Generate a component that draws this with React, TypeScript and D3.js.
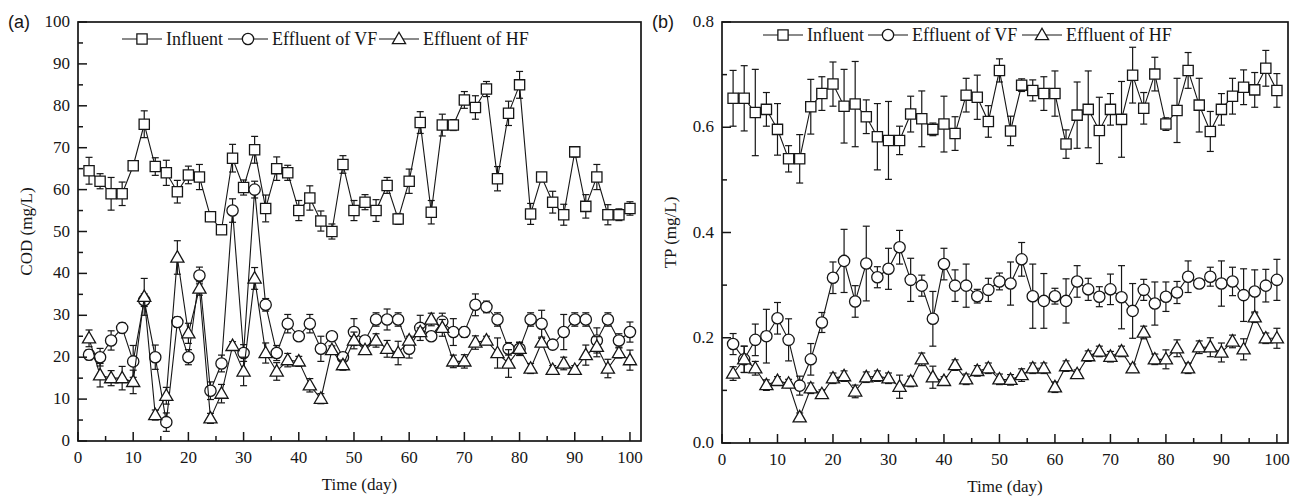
import React from 'react';
import * as d3 from 'd3';

// sampling days (every 2nd day)
const days = [2, 4, 6, 8, 10, 12, 14, 16, 18, 20, 22, 24, 26, 28, 30, 32, 34, 36, 38, 40,
  42, 44, 46, 48, 50, 52, 54, 56, 58, 60, 62, 64, 66, 68, 70, 72, 74, 76, 78, 80,
  82, 84, 86, 88, 90, 92, 94, 96, 98, 100];

const seriesNames = ['Influent', 'Effluent of VF', 'Effluent of HF'];

// (a) COD, mg/L
const codInfluent = [64.5, 62, 59, 59, 65.7, 75.6, 65.5, 64, 59.5, 63.5, 63, 53.5, 50.4, 67.5, 60.5, 69.5, 55.5, 65, 64, 55,
  58, 52.5, 50, 66, 55, 57, 55, 61, 53, 62, 76, 54.6, 75.4, 75.4, 81.4, 79.6, 84, 62.6, 78.2, 85,
  54.2, 63, 57, 54, 69, 56, 63, 54, 54, 55.5];
const codInfluentErr = [3.2, 1.8, 3.9, 2.8, 1, 3.2, 2.1, 3, 2.7, 2.1, 3, 1.1, 0.8, 3.3, 1.8, 3.2, 3.2, 2.8, 1.8, 2.4,
  2.9, 2.4, 1.8, 2.1, 2.4, 1.8, 2.6, 1.9, 1.3, 2.9, 2.6, 2.8, 2.6, 1.3, 2, 2.8, 1.8, 2.9, 2.9, 3.2,
  2.5, 0.8, 2.6, 2.5, 1.2, 2.8, 3, 2.4, 1.4, 1.6];
const codVF = [20.6, 20, 24, 27, 19, 33.6, 20, 4.5, 28.4, 20, 39.5, 12, 18.5, 55, 21, 60, 32.5, 21, 28, 25,
  28, 22, 25, 20, 26, 24, 29, 29, 29, 22, 27, 25, 28.5, 26, 26, 32.5, 32, 29, 22, 22,
  29, 28, 23, 26, 29, 29, 24, 29, 24, 26];
const codVFErr = [1.2, 2.1, 2.3, 1.2, 3.8, 1.5, 2.9, 2.2, 1.2, 1.8, 2, 2.1, 2, 2.8, 2, 2, 1.5, 1.8, 2.2, 1,
  2.2, 3, 1, 1, 3.2, 1, 1.6, 2.5, 1.6, 2.2, 3, 1, 2, 3.2, 1.2, 2.6, 1.4, 1.6, 1.5, 1.5,
  1.6, 3.2, 1, 4.2, 1.6, 1.6, 3, 1.6, 1.6, 2.4];
const codHF = [24.5, 15.7, 15, 15, 14.1, 34.4, 6.2, 10.8, 43.8, 25.7, 36.4, 5.4, 11.3, 22.7, 16.6, 38.8, 21, 16.6, 19.3, 19,
  13.3, 10.1, 21.7, 18.1, 24, 21.7, 24, 22, 21, 24, 26, 29, 27, 19, 19, 23.5, 24, 21, 18.5, 22,
  17.3, 23.5, 17, 18.5, 17, 20.5, 22.5, 17.3, 21, 19.3];
const codHFErr = [2, 2.8, 1.8, 2.8, 2.8, 4.4, 1.2, 2, 4, 2.4, 1.6, 1.2, 2.2, 1, 3.4, 2.6, 2.4, 2.1, 1.6, 1.2,
  1.6, 1.2, 1, 1.2, 2, 1, 1.6, 2, 2.8, 1, 1, 1.5, 2, 1.5, 1.6, 1.6, 1, 3.6, 3.3, 1.6,
  1.2, 1, 1, 1.5, 1, 2.4, 2.4, 2.2, 1.2, 2.4];

// (b) TP, mg/L
const tpInfluent = [0.655, 0.655, 0.628, 0.634, 0.596, 0.54, 0.54, 0.639, 0.664, 0.682, 0.64, 0.644, 0.62, 0.582, 0.575, 0.575, 0.625, 0.616, 0.596, 0.606,
  0.588, 0.661, 0.657, 0.611, 0.708, 0.593, 0.68, 0.67, 0.664, 0.664, 0.568, 0.623, 0.634, 0.594, 0.634, 0.615, 0.699, 0.636, 0.701, 0.606,
  0.632, 0.708, 0.642, 0.592, 0.634, 0.659, 0.676, 0.671, 0.712, 0.67];
const tpInfluentErr = [0.053, 0.062, 0.082, 0.032, 0.049, 0.025, 0.046, 0.052, 0.032, 0.042, 0.07, 0.081, 0.032, 0.063, 0.074, 0.027, 0.034, 0.053, 0.012, 0.053,
  0.032, 0.032, 0.042, 0.03, 0.022, 0.028, 0.012, 0.02, 0.032, 0.043, 0.027, 0.063, 0.073, 0.063, 0.03, 0.072, 0.053, 0.03, 0.032, 0.012,
  0.061, 0.034, 0.051, 0.038, 0.03, 0.034, 0.033, 0.033, 0.034, 0.032];
const tpVF = [0.188, 0.159, 0.196, 0.203, 0.237, 0.196, 0.109, 0.159, 0.229, 0.314, 0.346, 0.269, 0.341, 0.315, 0.331, 0.372, 0.31, 0.299, 0.236, 0.34,
  0.299, 0.299, 0.279, 0.291, 0.307, 0.303, 0.349, 0.279, 0.27, 0.279, 0.27, 0.307, 0.292, 0.278, 0.292, 0.277, 0.251, 0.291, 0.265, 0.278,
  0.286, 0.316, 0.303, 0.316, 0.303, 0.307, 0.281, 0.288, 0.299, 0.31];
const tpVFErr = [0.02, 0.025, 0.03, 0.051, 0.03, 0.04, 0.018, 0.03, 0.019, 0.03, 0.06, 0.03, 0.071, 0.02, 0.039, 0.032, 0.041, 0.02, 0.052, 0.03,
  0.03, 0.041, 0.013, 0.022, 0.016, 0.041, 0.032, 0.061, 0.052, 0.015, 0.042, 0.03, 0.021, 0.019, 0.029, 0.06, 0.052, 0.02, 0.041, 0.028,
  0.021, 0.03, 0.008, 0.018, 0.043, 0.027, 0.05, 0.041, 0.031, 0.039];
const tpHF = [0.132, 0.159, 0.142, 0.11, 0.118, 0.113, 0.049, 0.104, 0.093, 0.123, 0.127, 0.098, 0.125, 0.127, 0.123, 0.107, 0.117, 0.159, 0.125, 0.118,
  0.148, 0.121, 0.137, 0.142, 0.121, 0.12, 0.129, 0.142, 0.142, 0.106, 0.146, 0.131, 0.165, 0.174, 0.164, 0.174, 0.142, 0.21, 0.159, 0.159,
  0.18, 0.142, 0.182, 0.182, 0.172, 0.193, 0.178, 0.239, 0.199, 0.199];
const tpHFErr = [0.013, 0.025, 0.013, 0.01, 0.008, 0.008, 0.008, 0.01, 0.008, 0.01, 0.01, 0.012, 0.01, 0.01, 0.01, 0.022, 0.01, 0.012, 0.021, 0.008,
  0.01, 0.01, 0.01, 0.01, 0.01, 0.01, 0.012, 0.01, 0.01, 0.01, 0.01, 0.008, 0.01, 0.01, 0.01, 0.01, 0.008, 0.012, 0.01, 0.018,
  0.016, 0.01, 0.012, 0.018, 0.018, 0.012, 0.02, 0.01, 0.01, 0.019];

const xTicks = [0, 10, 20, 30, 40, 50, 60, 70, 80, 90, 100];
const codTicks = [0, 10, 20, 30, 40, 50, 60, 70, 80, 90, 100];
const tpTicks = [0, 0.2, 0.4, 0.6, 0.8];

const INK = '#161616';
const SERIF = '"Liberation Serif", "Times New Roman", serif';
const SANS = '"Liberation Sans", Arial, sans-serif';

const symbolTypes = [d3.symbolSquare, d3.symbolCircle, d3.symbolTriangle];
const symbolSizes = [105, 100, 75];

const Marker = ({ kind, x, y }) => (
  <path
    d={d3.symbol().type(symbolTypes[kind]).size(symbolSizes[kind])()}
    transform={`translate(${x},${y + (kind === 2 ? 0.8 : 0)})`}
    fill="#fff"
    stroke={INK}
    strokeWidth={1.3}
  />
);

const Panel = ({ frame, yMax, yTicks, yMinor, yFmt, series, label, yTitle, legendX, legendY, legendGaps, titleY }) => {
  const x = d3.scaleLinear().domain([0, 102]).range([frame.left, frame.right]);
  const y = d3.scaleLinear().domain([0, yMax]).range([frame.bottom, frame.top]);
  const line = d3.line().x((d) => x(d[0])).y((d) => y(d[1]));
  const xMinor = d3.range(5, 100, 10);
  const midX = (frame.left + frame.right) / 2;

  return (
    <g>
      {series.map((s, si) => {
        const pts = days.map((d, i) => [d, s.values[i]]);
        return (
          <g key={si}>
            <path d={line(pts)} fill="none" stroke={INK} strokeWidth={1.1} />
            {days.map((d, i) => {
              const cx = x(d);
              const y1 = y(s.values[i] + s.err[i]);
              const y0 = y(s.values[i] - s.err[i]);
              return (
                <g key={i} stroke={INK} strokeWidth={1.2}>
                  <line x1={cx} x2={cx} y1={y0} y2={y1} />
                  <line x1={cx - 3.5} x2={cx + 3.5} y1={y1} y2={y1} />
                  <line x1={cx - 3.5} x2={cx + 3.5} y1={y0} y2={y0} />
                </g>
              );
            })}
            {days.map((d, i) => (
              <Marker key={i} kind={si} x={x(d)} y={y(s.values[i])} />
            ))}
          </g>
        );
      })}

      <rect
        x={frame.left}
        y={frame.top}
        width={frame.right - frame.left}
        height={frame.bottom - frame.top}
        fill="none"
        stroke={INK}
        strokeWidth={1.7}
      />

      {xTicks.map((t) => (
        <g key={t}>
          <line x1={x(t)} x2={x(t)} y1={frame.bottom} y2={frame.bottom - 9} stroke={INK} strokeWidth={1.5} />
          <text x={x(t)} y={frame.bottom + 22} textAnchor="middle" fontFamily={SERIF} fontSize={17} fill={INK}>
            {t}
          </text>
        </g>
      ))}
      {xMinor.map((t) => (
        <line key={t} x1={x(t)} x2={x(t)} y1={frame.bottom} y2={frame.bottom - 5} stroke={INK} strokeWidth={1.5} />
      ))}

      {yTicks.map((t) => (
        <g key={t}>
          <line x1={frame.left} x2={frame.left + 9} y1={y(t)} y2={y(t)} stroke={INK} strokeWidth={1.5} />
          <text x={frame.left - 8} y={y(t) + 5} textAnchor="end" fontFamily={SERIF} fontSize={17} fill={INK}>
            {yFmt(t)}
          </text>
        </g>
      ))}
      {yMinor.map((t) => (
        <line key={t} x1={frame.left} x2={frame.left + 5} y1={y(t)} y2={y(t)} stroke={INK} strokeWidth={1.5} />
      ))}

      <text x={frame.left - 70} y={28} fontFamily={SANS} fontSize={18} fill={INK}>
        {label}
      </text>
      <text
        transform={`translate(${frame.left - 46},${(frame.top + frame.bottom) / 2}) rotate(-90)`}
        textAnchor="middle"
        fontFamily={SERIF}
        fontSize={17}
        fill={INK}
      >
        {yTitle}
      </text>
      <text x={midX} y={titleY} textAnchor="middle" fontFamily={SERIF} fontSize={17} fill={INK}>
        Time (day)
      </text>

      {seriesNames.map((name, si) => {
        const lx = legendX + legendGaps[si];
        return (
          <g key={name}>
            <line x1={lx} x2={lx + 40} y1={legendY} y2={legendY} stroke={INK} strokeWidth={1.1} />
            <Marker kind={si} x={lx + 20} y={legendY} />
            <text x={lx + 44} y={legendY + 6} fontFamily={SERIF} fontSize={18} fill={INK}>
              {name}
            </text>
          </g>
        );
      })}
    </g>
  );
};

const App = () => {
  const codSeries = [
    { values: codInfluent, err: codInfluentErr },
    { values: codVF, err: codVFErr },
    { values: codHF, err: codHFErr },
  ];
  const tpSeries = [
    { values: tpInfluent, err: tpInfluentErr },
    { values: tpVF, err: tpVFErr },
    { values: tpHF, err: tpHFErr },
  ];

  return (
    <svg
      width={1295}
      height={498}
      style={{ position: 'absolute', left: 0, top: 0, background: '#fff' }}
    >
      <Panel
        frame={{ left: 78, right: 641, top: 22, bottom: 441 }}
        yMax={100}
        yTicks={codTicks}
        yMinor={d3.range(5, 100, 10)}
        yFmt={(t) => String(t)}
        series={codSeries}
        label="(a)"
        yTitle="COD (mg/L)"
        legendX={122}
        legendY={39}
        legendGaps={[0, 106, 257]}
        titleY={490}
      />
      <Panel
        frame={{ left: 722, right: 1288, top: 22, bottom: 443 }}
        yMax={0.8}
        yTicks={tpTicks}
        yMinor={[0.1, 0.3, 0.5, 0.7]}
        yFmt={d3.format('.1f')}
        series={tpSeries}
        label="(b)"
        yTitle="TP (mg/L)"
        legendX={763}
        legendY={35}
        legendGaps={[0, 105, 259]}
        titleY={492}
      />
    </svg>
  );
};

export default App;
